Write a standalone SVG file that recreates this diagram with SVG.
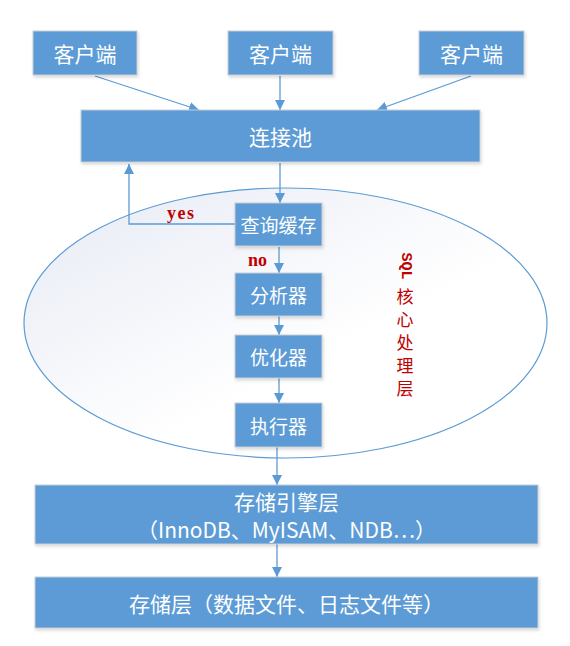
<svg xmlns="http://www.w3.org/2000/svg" width="570" height="646" viewBox="0 0 570 646">
<defs>
<linearGradient id="eg" x1="0" y1="0" x2="1" y2="1">
<stop offset="0" stop-color="#e6eaf4"/>
<stop offset="0.6" stop-color="#ffffff"/>
<stop offset="1" stop-color="#ffffff"/>
</linearGradient>
<marker id="ah" viewBox="0 0 10 10" refX="10" refY="5" markerWidth="10" markerHeight="10" markerUnits="userSpaceOnUse" orient="auto">
<path d="M0,0 L10,5 L0,10 z" fill="#5b9bd5"/>
</marker>
<filter id="sh" x="-5%" y="-10%" width="110%" height="130%">
<feDropShadow dx="1" dy="2" stdDeviation="1.5" flood-color="#000" flood-opacity="0.15"/>
</filter>
</defs>
<style>
.box{fill:#5b9bd5;stroke:#c9cdd3;stroke-width:1;filter:url(#sh)}
.t{fill:#fff;font-family:"Microsoft YaHei","Noto Sans CJK SC","Noto Sans",sans-serif;text-anchor:middle;dominant-baseline:central}
.t22{font-size:21px}
.t20{font-size:19px}
.c{fill:none;stroke:#5b9bd5;stroke-width:1.3;marker-end:url(#ah)}
.red{fill:#c00000;font-family:"Liberation Serif","Noto Sans CJK SC",serif;font-weight:bold;font-size:18px}
.v{fill:#c00000;font-family:"Noto Sans CJK SC",sans-serif;font-size:17px;text-anchor:middle;dominant-baseline:central}
.sql{fill:#c00000;font-family:"Liberation Mono",monospace;font-weight:bold;font-size:15px;text-anchor:middle;dominant-baseline:central}
</style>
<rect width="570" height="646" fill="#fff"/>
<g id="core">
<ellipse cx="285.5" cy="323" rx="261.5" ry="135" fill="url(#eg)" stroke="#5b9bd5" stroke-width="1.2"/>
<text x="405" y="266" class="sql" transform="rotate(90 405 266)">SQL</text>
<text x="405" y="295" class="v">核</text>
<text x="405" y="318" class="v">心</text>
<text x="405" y="341" class="v">处</text>
<text x="405" y="364" class="v">理</text>
<text x="405" y="387" class="v">层</text>
</g>
<g id="connectors">
<line class="c" x1="95" y1="76" x2="199" y2="110"/>
<line class="c" x1="280" y1="76" x2="280" y2="110"/>
<line class="c" x1="471" y1="76" x2="377" y2="110"/>
<line class="c" x1="280" y1="163" x2="280" y2="203"/>
<polyline class="c" points="235,224 129,224 129,164"/>
<line class="c" x1="279" y1="247" x2="279" y2="273"/>
<line class="c" x1="279" y1="316" x2="279" y2="335"/>
<line class="c" x1="279" y1="378" x2="279" y2="403"/>
<line class="c" x1="277" y1="447" x2="277" y2="485"/>
<line class="c" x1="277" y1="544" x2="277" y2="577"/>
<text class="red" x="167" y="219" font-size="19" letter-spacing="1.5">yes</text>
<text class="red" x="248" y="266">no</text>
</g>
<g id="client1"><rect class="box" x="33" y="31" width="104" height="44"/><text class="t t22" x="85" y="53">客户端</text></g>
<g id="client2"><rect class="box" x="228" y="31" width="105" height="44"/><text class="t t22" x="280.5" y="53">客户端</text></g>
<g id="client3"><rect class="box" x="419" y="31" width="105" height="44"/><text class="t t22" x="471.5" y="53">客户端</text></g>
<g id="pool"><rect class="box" x="81" y="110" width="399" height="52"/><text class="t t22" x="280.5" y="136">连接池</text></g>
<g id="cache"><rect class="box" x="235" y="203" width="87" height="43"/><text class="t t20" x="278.5" y="224.5">查询缓存</text></g>
<g id="parser"><rect class="box" x="235" y="273" width="87" height="43"/><text class="t t20" x="278.5" y="294.5">分析器</text></g>
<g id="optimizer"><rect class="box" x="235" y="335" width="87" height="43"/><text class="t t20" x="278.5" y="356.5">优化器</text></g>
<g id="executor"><rect class="box" x="235" y="403" width="87" height="44"/><text class="t t20" x="278.5" y="425">执行器</text></g>
<g id="engine"><rect class="box" x="35" y="485" width="503" height="59"/><text class="t t22" x="286.5" y="500.5">存储引擎层</text><text class="t t22" x="286.5" y="529">（InnoDB、MyISAM、NDB…）</text></g>
<g id="storage"><rect class="box" x="35" y="577" width="503" height="51"/><text class="t t22" x="286.5" y="602.5">存储层（数据文件、日志文件等）</text></g>
</svg>
